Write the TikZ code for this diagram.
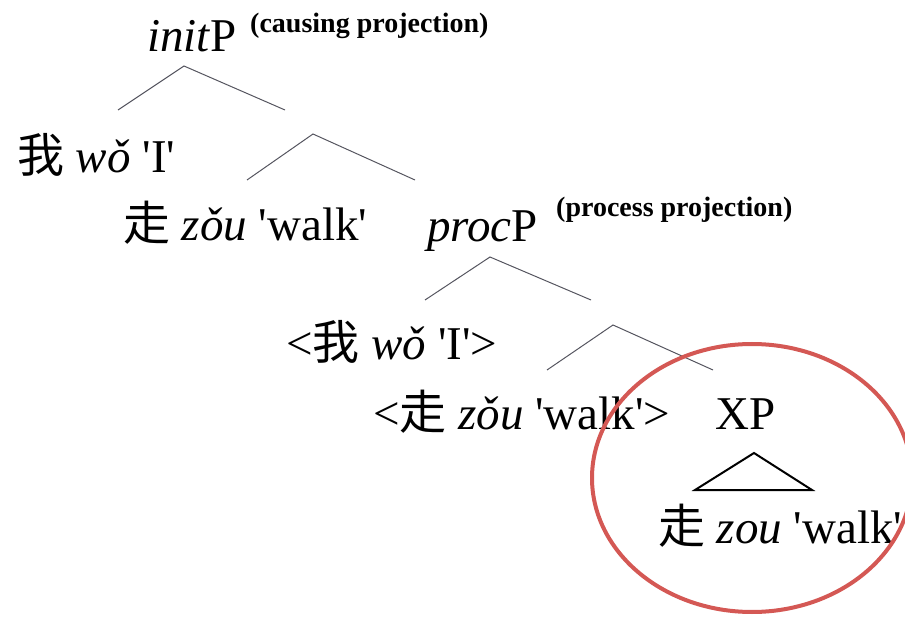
\documentclass[tikz,border=0pt]{standalone}
\usepackage{fontspec}
\setmainfont{Liberation Serif}
\newfontfamily\cjk{Noto Sans CJK SC}
\newcommand\sq{\textquotesingle}
\definecolor{ringred}{RGB}{212,88,84}
\definecolor{branchgray}{RGB}{85,85,95}
\tikzset{
  lab/.style={anchor=base west, inner sep=0pt, font=\fontsize{47}{50}\selectfont},
  note/.style={anchor=base west, inner sep=0pt, font=\fontsize{28}{30}\selectfont\bfseries},
  branch/.style={draw=branchgray, line width=1pt},
  roof/.style={draw=black, line width=2pt, line join=miter},
  ring/.style={draw=ringred, line width=4pt}
}
\begin{document}
\begin{tikzpicture}[x=1pt,y=-1pt]
\useasboundingbox (0,0) rectangle (905,617);
\clip (0,0) rectangle (905,617);
% labels
\node[lab] (initp) at (147,52) {\textit{init}P};
\node[note] (cause) at (250,33) {(causing projection)};
\node[lab] (wo) at (17,173) {{\cjk 我} \textit{wǒ} \sq I\sq};
\node[lab] (zou1) at (123,241) {{\cjk 走} \textit{zǒu} \sq walk\sq};
\node[lab] (procp) at (427,242) {\textit{proc}P};
\node[note] (process) at (556,217) {(process projection)};
\node[lab] (wo2) at (286,360) {<{\cjk 我} \textit{wǒ} \sq I\sq>};
\node[lab] (zou2) at (373,429) {<{\cjk 走} \textit{zǒu} \sq walk\sq>};
\node[lab] (xp) at (715,429) {XP};
\node[lab] (zou3) at (658,543) {{\cjk 走} \textit{zou} \sq walk\sq};
% branch points
\coordinate (a1) at (184,66);  \coordinate (l1) at (118,110); \coordinate (r1) at (285,110);
\coordinate (a2) at (313,134); \coordinate (l2) at (247,180); \coordinate (r2) at (415,180);
\coordinate (a3) at (490,257); \coordinate (l3) at (425,300); \coordinate (r3) at (591,300);
\coordinate (a4) at (613,325); \coordinate (l4) at (547,370); \coordinate (r4) at (713,370);
\coordinate (t0) at (754,453); \coordinate (tl) at (695,490); \coordinate (tr) at (812,490);
\draw[branch] (l1) -- (a1) -- (r1);
\draw[branch] (l2) -- (a2) -- (r2);
\draw[branch] (l3) -- (a3) -- (r3);
\draw[branch] (l4) -- (a4) -- (r4);
\draw[roof] (t0) -- (tl) -- (tr) -- cycle;
% highlight ring
\coordinate (rc) at (752,478);
\draw[ring] (rc) ellipse [x radius=160pt, y radius=134pt];
\end{tikzpicture}
\end{document}
